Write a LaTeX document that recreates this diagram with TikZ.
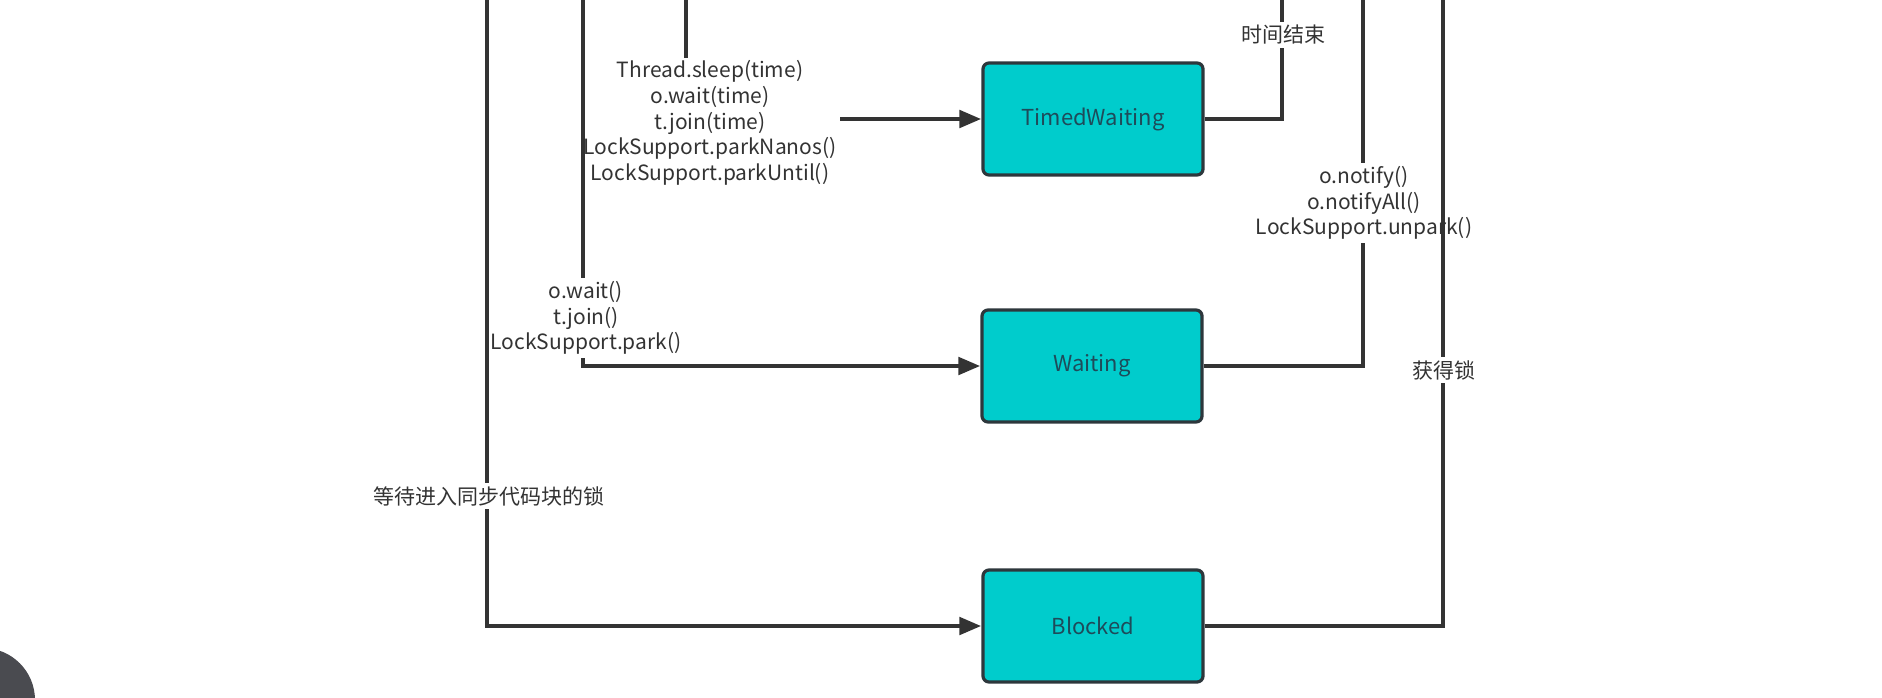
\documentclass[tikz,border=0pt]{standalone}
\usepackage{fontspec}
\setmainfont{Noto Sans CJK SC}
\usetikzlibrary{arrows.meta}
\definecolor{boxfill}{RGB}{0,204,204}
\definecolor{boxline}{RGB}{45,55,60}
\definecolor{edgecol}{RGB}{51,51,51}
\definecolor{lbl}{RGB}{51,51,51}
\definecolor{boxtxt}{RGB}{30,75,90}
\definecolor{btn}{RGB}{74,75,80}
\begin{document}
\begin{tikzpicture}[x=0.5pt,y=-0.5pt,
  state/.style={draw=boxline, line width=1.6pt, fill=boxfill, rounded corners=3pt,
    minimum width=110pt, minimum height=56pt, text=boxtxt, inner sep=0pt,
    font=\fontsize{11}{13}\selectfont},
  conn/.style={draw=edgecol, line width=2.4pt},
  arr/.style={conn, -{Triangle[length=11pt,width=8.5pt]}},
  lab/.style={fill=white, text=lbl, align=center, inner sep=1.5pt,
    font=\fontsize{10.5}{12.85}\selectfont}]
\useasboundingbox[fill=white] (0,0) rectangle (1882,697);

% states
\node[state] (tw) at (1093,119) {TimedWaiting};
\node[state] (wt) at (1092,366) {Waiting};
\node[state] (bl) at (1093,626) {Blocked};

% free ends at the top edge
\coordinate (t1) at (487,-6);
\coordinate (t2) at (583,-6);
\coordinate (t3) at (686,-6);
\coordinate (t4) at (1282,-6);
\coordinate (t5) at (1363,-6);
\coordinate (t6) at (1443,-6);

% incoming connectors, each with its label
\draw[arr] (t3) |- (tw.west);
\node[lab] (l3) at (710,123) {Thread.sleep(time)\\o.wait(time)\\t.join(time)\\LockSupport.parkNanos()\\LockSupport.parkUntil()};

\draw[arr] (t2) |- (wt.west);
\node[lab] (l2) at (586,318) {o.wait()\\t.join()\\LockSupport.park()};

\draw[arr] (t1) |- (bl.west);
\node[lab] (l1) at (489,496) {等待进入同步代码块的锁};

% outgoing connectors, each with its label
\draw[conn] (tw.east) -| (t4);
\node[lab] (l4) at (1283,35) {时间结束};

\draw[conn] (wt.east) -| (t5);
\node[lab] (l5) at (1364,203) {o.notify()\\o.notifyAll()\\LockSupport.unpark()};

\draw[conn] (bl.east) -| (t6);
\node[lab] (l6) at (1444,370) {获得锁};

% floating button partly visible at the lower left corner
\fill[btn] (-17,700) circle[radius=52];
\end{tikzpicture}
\end{document}
